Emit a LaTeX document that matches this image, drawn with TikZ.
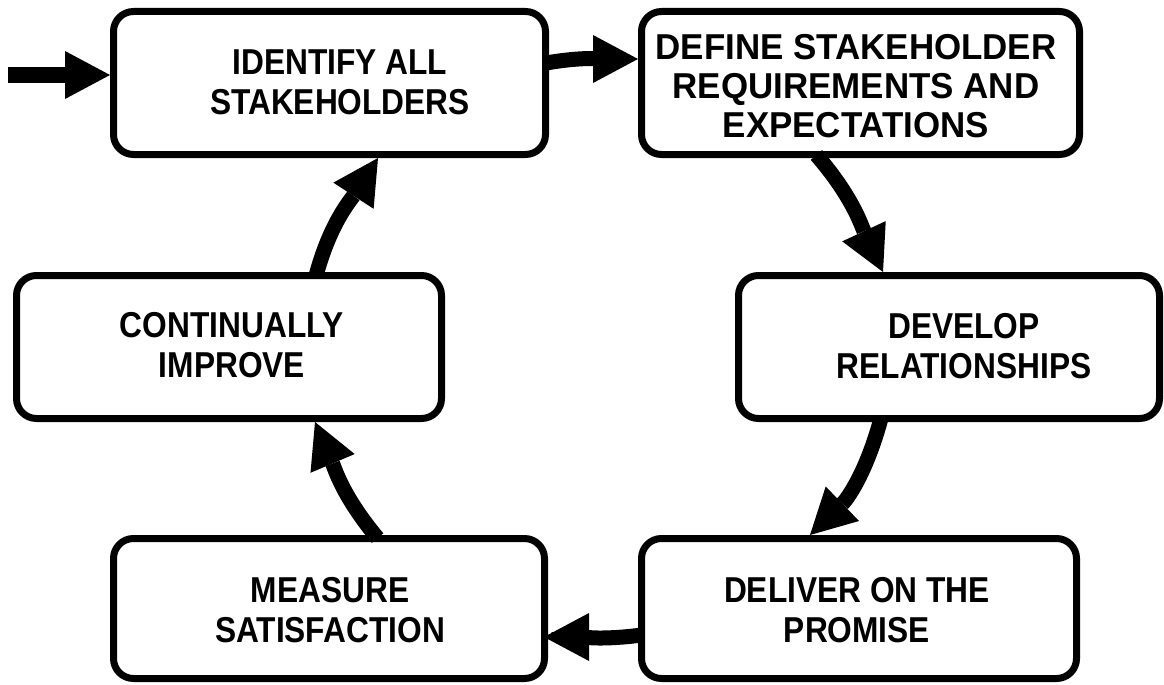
\documentclass[tikz,border=0pt]{standalone}
\usepackage{fontspec}
\setmainfont{Liberation Sans}
\newfontfamily\labelfont{Liberation Sans}[FakeStretch=0.88]
\newfontfamily\widelabelfont{Liberation Sans}[FakeStretch=0.97]
\usetikzlibrary{arrows.meta}
\begin{document}
\begin{tikzpicture}[x=1pt,y=-1pt,
  stage/.style={draw=black, line width=7pt, rounded corners=20pt, fill=white, inner sep=0pt},
  caption/.style={font=\labelfont\bfseries\fontsize{36}{40}\selectfont, align=center, inner sep=0pt},
  widecaption/.style={caption, font=\widelabelfont\bfseries\fontsize{36}{39}\selectfont},
  flow/.style={line width=15pt, shorten <=-4pt,
    -{Triangle[length=45pt,width=48pt,line width=0pt]}},
]
\useasboundingbox (0,0) rectangle (1164,685);

% stage boxes
\node[stage, minimum width=432pt, minimum height=143pt] (b1) at (329.5,83) {};
\node[stage, minimum width=438pt, minimum height=143pt] (b2) at (860.5,83) {};
\node[stage, minimum width=421pt, minimum height=143pt] (b3) at (949,347) {};
\node[stage, minimum width=435pt, minimum height=140pt] (b4) at (859,608.5) {};
\node[stage, minimum width=431pt, minimum height=140pt] (b5) at (329,608.5) {};
\node[stage, minimum width=425pt, minimum height=143pt] (b6) at (229,347) {};

% stage captions
\node[caption] (t1) at (340,82) {IDENTIFY ALL\\STAKEHOLDERS};
\node[widecaption] (t2) at (856,86) {DEFINE STAKEHOLDER\\REQUIREMENTS AND\\EXPECTATIONS};
\node[caption] (t3) at (964,346) {DEVELOP\\RELATIONSHIPS};
\node[caption] (t4) at (857,610) {DELIVER ON THE\\PROMISE};
\node[caption] (t5) at (330,610) {MEASURE\\SATISFACTION};
\node[caption] (t6) at (232,345) {CONTINUALLY\\IMPROVE};

% entry arrow
\coordinate (entry) at (8,75);
\draw[flow, shorten <=0pt] (entry) -- ([yshift=8pt]b1.west);

% cycle arrows
\draw[flow] ([yshift=20.5pt]b1.east) to[out=10,in=180] ([yshift=24pt]b2.west);
\draw[flow] ([xshift=-41.5pt]b2.south) to[out=-49,in=115] ([xshift=-66pt]b3.north);
\draw[flow] ([xshift=-69pt]b3.south) to[out=-105,in=44] ([xshift=-49pt]b4.north);
\draw[flow] ([yshift=-27pt]b4.west) to[out=187.5,in=0] ([xshift=-4pt,yshift=-28.5pt]b5.east);
\draw[flow] ([xshift=46pt]b5.north) to[out=130,in=-67] ([xshift=86pt]b6.south);
\draw[flow] ([xshift=88pt]b6.north) to[out=75,in=237] ([xshift=48.5pt]b1.south);
\end{tikzpicture}
\end{document}
